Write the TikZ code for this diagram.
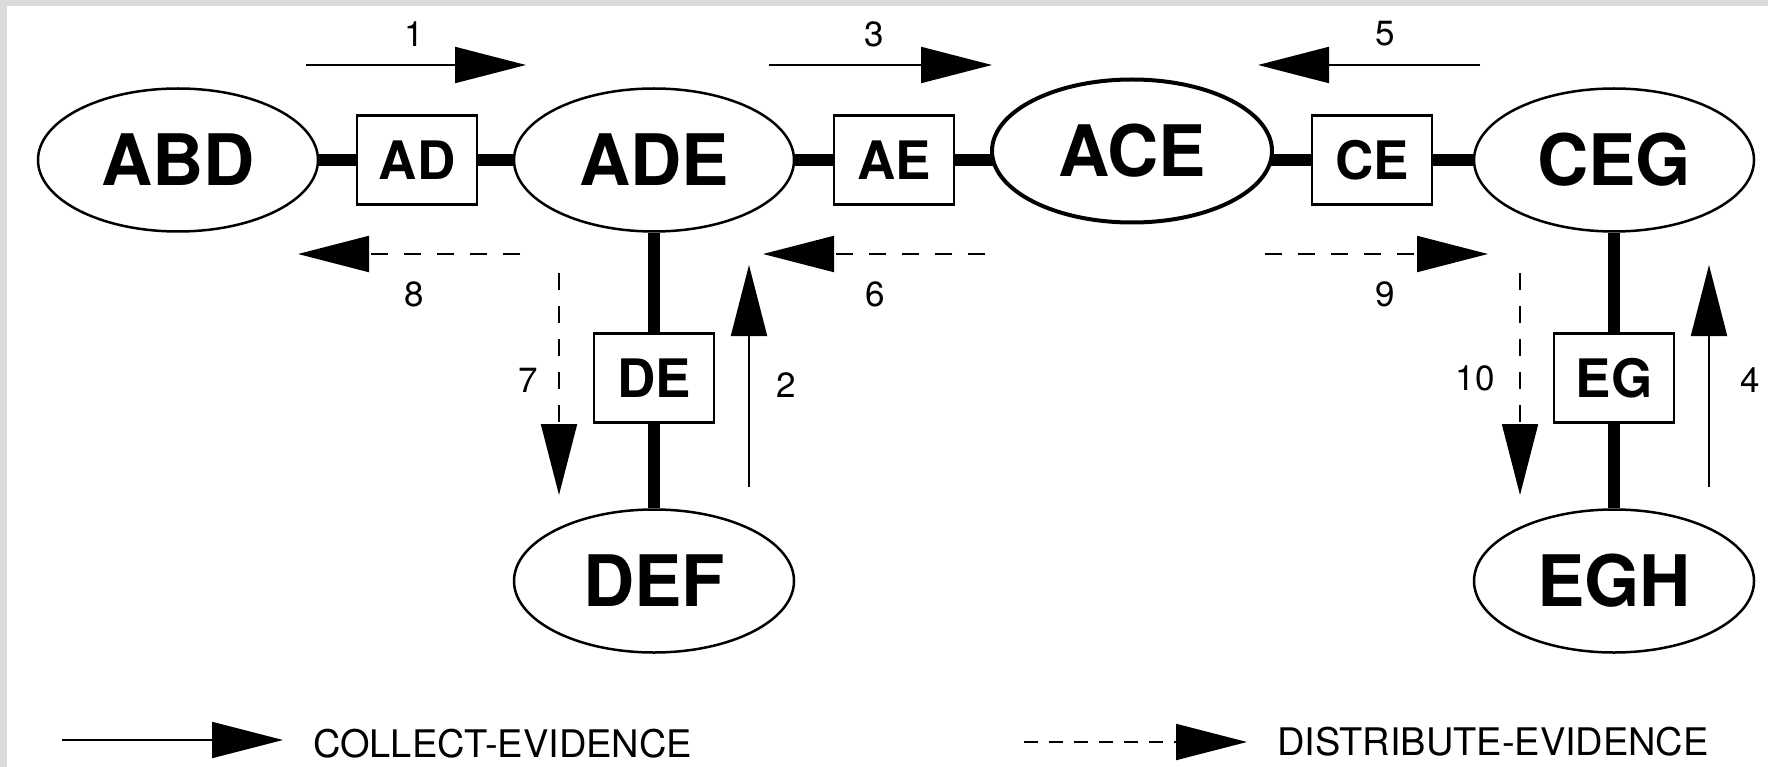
\documentclass[tikz,border=0pt]{standalone}
\usepackage{fontspec}
\setmainfont{TeX Gyre Heros}
\usetikzlibrary{arrows.meta,shapes.geometric}
\pgfdeclarelayer{bg}
\pgfsetlayers{bg,main}
\begin{document}
\begin{tikzpicture}[x=1pt,y=-1pt,
  clique/.style={ellipse, draw, line width=2.5pt, fill=white,
    minimum width=280pt, minimum height=143pt, inner sep=0pt,
    font=\fontsize{71}{80}\selectfont\bfseries},
  sepset/.style={rectangle, draw, line width=2.5pt, fill=white,
    minimum width=120pt, minimum height=89pt, inner sep=0pt,
    font=\fontsize{53}{60}\selectfont\bfseries},
  link/.style={line width=12pt},
  tipstyle/.style={-{Triangle[length=71pt,width=36pt]}},
  collect/.style={line width=2pt, tipstyle},
  distribute/.style={line width=2pt, dash pattern=on 17pt off 16pt, tipstyle},
  num/.style={font=\fontsize{35}{40}\selectfont, inner sep=0pt},
  legendtext/.style={font=\fontsize{38}{44}\selectfont, inner sep=0pt, anchor=west}]

\useasboundingbox (0,0) rectangle (1768,767);

% cliques and separators
\node[clique] (ABD) at (178,160) {ABD};
\node[sepset] (AD) at (417,160) {AD};
\node[clique] (ADE) at (654,160) {ADE};
\node[sepset] (AE) at (894,160) {AE};
\node[clique, line width=4pt] (ACE) at (1132,151) {ACE};
\node[sepset] (CE) at (1372,160) {CE};
\node[clique] (CEG) at (1614,160) {CEG};
\node[sepset] (DE) at (654,378) {DE};
\node[clique] (DEF) at (654,581) {DEF};
\node[sepset] (EG) at (1614,378) {EG};
\node[clique] (EGH) at (1614,581) {EGH};

\begin{pgfonlayer}{bg}
  % page and frame
  \fill[white] (0,0) rectangle (1768,767);
  \fill[black!14] (0,0) rectangle (1768,6);
  \fill[black!14] (0,0) rectangle (7,767);
  % tree edges, behind the nodes
  \draw[link] (ABD) -- (AD);
  \draw[link] (AD) -- (ADE);
  \draw[link] (ADE) -- (AE);
  \draw[link] (AE) -- (AE -| ACE);
  \draw[link] (CE) -- (CE -| ACE);
  \draw[link] (CE) -- (CEG);
  \draw[link] (ADE) -- (DE);
  \draw[link] (DE) -- (DEF);
  \draw[link] (CEG) -- (EG);
  \draw[link] (EG) -- (EGH);
\end{pgfonlayer}

% message passing arrows
\coordinate (a1s) at (306,65);   \coordinate (a1e) at (526,65);
\coordinate (a2s) at (749,487);  \coordinate (a2e) at (749,265);
\coordinate (a3s) at (769,65);   \coordinate (a3e) at (992,65);
\coordinate (a4s) at (1709,487); \coordinate (a4e) at (1709,265);
\coordinate (a5s) at (1480,65);  \coordinate (a5e) at (1258,65);
\coordinate (a6s) at (985,254);  \coordinate (a6e) at (763,254);
\coordinate (a7s) at (559,273);  \coordinate (a7e) at (559,495);
\coordinate (a8s) at (520,254);  \coordinate (a8e) at (298,254);
\coordinate (a9s) at (1265,254); \coordinate (a9e) at (1488,254);
\coordinate (a10s) at (1520,273);\coordinate (a10e) at (1520,495);

\draw[collect] (a1s) -- (a1e);
\draw[collect] (a2s) -- (a2e);
\draw[collect] (a3s) -- (a3e);
\draw[collect] (a4s) -- (a4e);
\draw[collect] (a5s) -- (a5e);
\draw[distribute] (a6s) -- (a6e);
\draw[distribute] (a7s) -- (a7e);
\draw[distribute] (a8s) -- (a8e);
\draw[distribute] (a9s) -- (a9e);
\draw[distribute] (a10s) -- (a10e);

\node[num] (n1) at (414,34) {1};
\node[num] (n2) at (786,385) {2};
\node[num] (n3) at (874,34) {3};
\node[num] (n4) at (1750,380) {4};
\node[num] (n5) at (1385,34) {5};
\node[num] (n6) at (875,294) {6};
\node[num] (n7) at (528,380) {7};
\node[num] (n8) at (414,294) {8};
\node[num] (n9) at (1385,294) {9};
\node[num] (n10) at (1475,378) {10};

% legend
\coordinate (lcs) at (62,740);   \coordinate (lce) at (283,740);
\coordinate (lds) at (1024,742); \coordinate (lde) at (1247,742);
\draw[collect] (lcs) -- (lce);
\draw[distribute, dash pattern=on 14pt off 11pt] (lds) -- (lde);
\node[legendtext] (lct) at (313,744) {COLLECT-EVIDENCE};
\node[legendtext] (ldt) at (1277,742) {DISTRIBUTE-EVIDENCE};
\end{tikzpicture}
\end{document}
